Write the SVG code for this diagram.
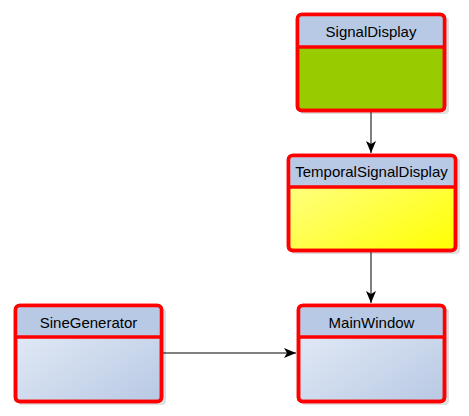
<svg xmlns="http://www.w3.org/2000/svg" width="469" height="416" viewBox="0 0 469 416">
<style>
.box{stroke:#ff0000;stroke-width:3.5}
.hdr{fill:#b8c9e5}
.div{stroke:#ff0000;stroke-width:3.5}
.lbl{font-family:"Liberation Sans",Arial,sans-serif;font-size:15px;fill:#000;text-anchor:middle}
.edge{stroke:#000;stroke-width:1;fill:none}
.shadow{fill:#000;opacity:0.12}
</style>
<defs>
<linearGradient id="blue" x1="0" y1="0" x2="1" y2="1">
<stop offset="0" stop-color="#e8eef8"/>
<stop offset="1" stop-color="#b8c9e4"/>
</linearGradient>
<linearGradient id="yellow" x1="0" y1="0" x2="1" y2="1">
<stop offset="0" stop-color="#ffff99"/>
<stop offset="1" stop-color="#ffff00"/>
</linearGradient>
<marker id="arr" viewBox="0 0 12 10" refX="12" refY="5" markerWidth="12" markerHeight="10" markerUnits="userSpaceOnUse" orient="auto">
<path d="M0,0 L12,5 L0,10 L3,5 Z" fill="#000"/>
</marker>
</defs>
<g id="connectors">
<path class="edge" d="M371,112 L371,153" marker-end="url(#arr)"/>
<path class="edge" d="M371,251 L371,303" marker-end="url(#arr)"/>
<path class="edge" d="M163,353 L296,353" marker-end="url(#arr)"/>
</g>
<g id="SignalDisplay">
<rect class="shadow" x="300" y="17" width="149" height="97" rx="4"/>
<rect x="297.5" y="14.5" width="147" height="96" rx="4" fill="#99cc00" class="box"/>
<path d="M299,47 L299,19 Q299,16 302,16 L440,16 Q443,16 443,19 L443,47 Z" class="hdr"/>
<line x1="297.5" y1="47" x2="444.5" y2="47" class="div"/>
<rect x="297.5" y="14.5" width="147" height="96" rx="4" fill="none" class="box"/>
<text x="371" y="37" class="lbl">SignalDisplay</text>
</g>
<g id="TemporalSignalDisplay">
<rect class="shadow" x="291" y="158" width="169" height="96" rx="4"/>
<rect x="288.5" y="155.5" width="167" height="95" rx="4" fill="url(#yellow)" class="box"/>
<path d="M290,187 L290,160 Q290,157 293,157 L451,157 Q454,157 454,160 L454,187 Z" class="hdr"/>
<line x1="288.5" y1="187" x2="455.5" y2="187" class="div"/>
<rect x="288.5" y="155.5" width="167" height="95" rx="4" fill="none" class="box"/>
<text x="371.5" y="177" class="lbl">TemporalSignalDisplay</text>
</g>
<g id="SineGenerator">
<rect class="shadow" x="18" y="308" width="148" height="97" rx="4"/>
<rect x="15.5" y="305.5" width="146" height="96" rx="4" fill="url(#blue)" class="box"/>
<path d="M17,337 L17,310 Q17,307 20,307 L157,307 Q160,307 160,310 L160,337 Z" class="hdr"/>
<line x1="15.5" y1="337" x2="161.5" y2="337" class="div"/>
<rect x="15.5" y="305.5" width="146" height="96" rx="4" fill="none" class="box"/>
<text x="88.5" y="328" class="lbl">SineGenerator</text>
</g>
<g id="MainWindow">
<rect class="shadow" x="301" y="308" width="148" height="97" rx="4"/>
<rect x="298.5" y="305.5" width="146" height="96" rx="4" fill="url(#blue)" class="box"/>
<path d="M300,337 L300,310 Q300,307 303,307 L440,307 Q443,307 443,310 L443,337 Z" class="hdr"/>
<line x1="298.5" y1="337" x2="444.5" y2="337" class="div"/>
<rect x="298.5" y="305.5" width="146" height="96" rx="4" fill="none" class="box"/>
<text x="371.5" y="328" class="lbl">MainWindow</text>
</g>
</svg>
